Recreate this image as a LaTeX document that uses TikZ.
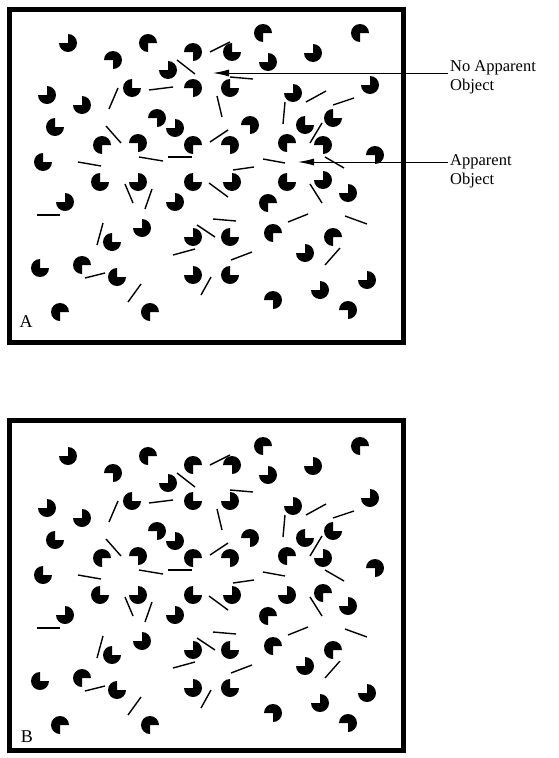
\documentclass[tikz,border=0pt]{standalone}
\usepackage{fontspec}
\setmainfont{Liberation Serif}
\usetikzlibrary{arrows.meta}
\newcommand{\pac}[3]{\fill[black] (#1,#2) -- ++(#3:9) arc[start angle=#3, delta angle=270, radius=9] -- cycle;}
\newcommand{\pne}[2]{\pac{#1}{#2}{0}}
\newcommand{\pse}[2]{\pac{#1}{#2}{90}}
\newcommand{\psw}[2]{\pac{#1}{#2}{180}}
\newcommand{\pnw}[2]{\pac{#1}{#2}{270}}
\newcommand{\sg}[4]{\draw[seg] (#1,#2) -- (#3,#4);}
\newcommand{\segsall}{%
\sg{177}{60}{195}{74}\sg{149}{90}{173}{87}\sg{118}{88}{109}{109}\sg{106}{126}{121}{143}
\sg{78}{162}{101}{166}\sg{139}{157}{163}{161}\sg{168}{157}{192}{157}\sg{210}{52}{230}{42}
\sg{230}{77}{253}{79}\sg{217}{96}{222}{117}\sg{306}{102}{326}{91}\sg{333}{105}{354}{98}
\sg{285}{102}{283}{124}\sg{210}{142}{228}{130}\sg{310}{143}{322}{123}\sg{325}{157}{344}{168}
\sg{263}{159}{285}{163}\sg{233}{170}{254}{167}\sg{209}{183}{228}{197}\sg{310}{184}{322}{203}
\sg{213}{219}{236}{221}\sg{288}{222}{308}{214}\sg{345}{216}{367}{224}\sg{197}{225}{215}{237}
\sg{231}{260}{252}{252}\sg{325}{265}{340}{248}\sg{125}{184}{133}{203}\sg{152}{189}{145}{209}
\sg{37}{215}{60}{215}\sg{103}{223}{97}{245}\sg{173}{255}{195}{249}\sg{85}{278}{105}{273}
\sg{128}{302}{141}{284}\sg{201}{295}{211}{277}}
\newcommand{\pacscommon}{%
\pnw{68}{43}\pse{148}{43}\pse{263}{33}\pse{360}{33}\pnw{268}{62}\pnw{313}{53}
\psw{113}{60}\pnw{168}{70}\pne{132}{88}\pnw{370}{85}\pnw{47}{95}\pnw{82}{105}
\pnw{293}{93}\pne{55}{127}\psw{157}{118}\pnw{175}{128}\psw{250}{125}\pne{305}{125}
\pne{333}{118}\pse{102}{145}\psw{138}{143}\pse{193}{145}\psw{230}{145}
\psw{375}{155}\pne{43}{162}\pne{100}{182}\pnw{138}{182}\pne{193}{182}\pnw{232}{182}
\pnw{348}{193}\pnw{65}{202}\pnw{175}{202}\pse{268}{203}\pnw{142}{228}\pne{112}{242}
\pnw{193}{237}\pne{230}{237}\pse{273}{233}\pse{333}{237}\pnw{305}{253}
\pne{40}{268}\pse{82}{265}\pne{117}{277}\pnw{193}{275}\pne{230}{275}\pnw{367}{280}
\pnw{320}{290}\pse{60}{312}\pse{150}{312}\psw{273}{300}\psw{348}{310}}
\tikzset{
  seg/.style={line width=1.4, line cap=butt},
  frame/.style={line width=5},
  lab/.style={font=\fontsize{16.5}{19}\selectfont, anchor=base west, inner sep=0},
  letter/.style={font=\fontsize{18}{20}\selectfont, inner sep=0},
  pointer/.style={line width=0.9, -{Latex[length=16pt,width=7pt]}}
}
\begin{document}
\begin{tikzpicture}[x=1pt,y=-1pt]
\useasboundingbox (0,0) rectangle (558,758);
% Panel A
\draw[frame] (9.5,9.5) rectangle (403,342);
\pacscommon
\psw{193}{52}\pne{232}{52}\psw{193}{88}\pne{230}{88}
\pse{287}{143}\psw{323}{145}\pne{287}{182}\pnw{323}{180}
\segsall
\node[letter] (la) at (26,322) {A};
\node[lab] (t1) at (450,71) {No Apparent};
\node[lab] (t1b) at (450,90) {Object};
\node[lab] (t2) at (450,165) {Apparent};
\node[lab] (t2b) at (450,184) {Object};
\coordinate (s1) at (448,73);
\coordinate (e1) at (213,73);
\coordinate (s2) at (448,162);
\coordinate (e2) at (298,162);
\draw[pointer] (s1) -- (e1);
\draw[pointer] (s2) -- (e2);
% Panel B
\draw[frame] (9.5,420) rectangle (403,750);
\begin{scope}[shift={(0,413)}]
\pacscommon
\pse{193}{52}\psw{232}{52}\pne{193}{88}\pnw{230}{88}
\pse{287}{143}\pnw{323}{145}\pnw{287}{182}\pse{323}{180}
\segsall
\end{scope}
\node[letter] (lb) at (27,737) {B};
\end{tikzpicture}
\end{document}
